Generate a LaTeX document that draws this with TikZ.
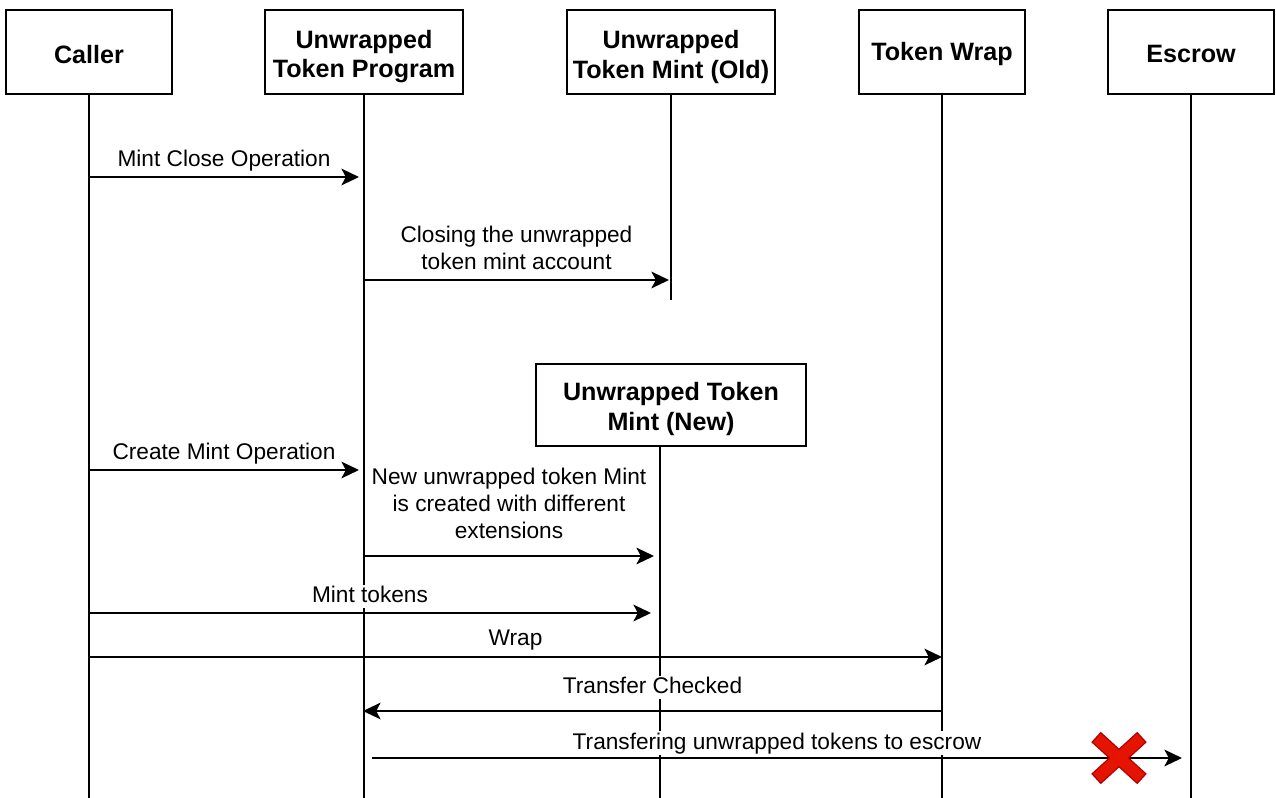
\documentclass[tikz,border=0pt]{standalone}
\usepackage{fontspec}
\setmainfont{Liberation Sans}
\usetikzlibrary{arrows.meta,positioning}
\definecolor{xred}{HTML}{E51400}
\definecolor{xdark}{HTML}{B20000}
\tikzset{
	actor/.style={draw, line width=0.04cm, inner sep=0pt, minimum height=1.68cm},
	title/.style={align=center, inner sep=0pt, font=\fontsize{14.3}{16.6}\selectfont\bfseries},
	life/.style={line width=0.04cm},
	msg/.style={line width=0.04cm, -{Stealth[length=10pt, width=9.5pt, inset=2.5pt]}},
	lbl/.style={fill=white, inner sep=1pt, align=center, text depth=0.22em,
		font=\fontsize{12.9}{15.4}\selectfont},
}
\begin{document}
\begin{tikzpicture}[x=0.02cm, y=-0.02cm]
	\useasboundingbox (0,0) rectangle (1276,798);
	% participants
	\node[actor, minimum width=3.32cm] (caller) at (89,52) {};
	\node[actor, minimum width=3.96cm] (prog) at (364,52) {};
	\node[actor, minimum width=4.16cm] (oldmint) at (671,52) {};
	\node[actor, minimum width=3.32cm] (wrap) at (942,52) {};
	\node[actor, minimum width=3.32cm] (escrow) at (1191,52) {};
	\node[actor, minimum width=5.4cm, minimum height=1.64cm] (newmint) at (671,405) {};
	\node[title] (callerT) at ([yshift=-1.2pt]caller.center) {Caller};
	\node[title] (progT) at ([yshift=-2.8pt]prog.center) {Unwrapped\\Token Program};
	\node[title] (oldmintT) at ([yshift=-2.8pt]oldmint.center) {Unwrapped\\Token Mint (Old)};
	\node[title] (wrapT) at ([yshift=-1.2pt]wrap.center) {Token Wrap};
	\node[title] (escrowT) at ([yshift=-1.2pt]escrow.center) {Escrow};
	\node[title] (newmintT) at ([yshift=-2.3pt]newmint.center) {Unwrapped Token\\Mint (New)};
	% lifelines
	\coordinate (bottom) at (0,798);
	\coordinate (oldend) at (0,300);
	\coordinate (newtop) at (660,446);
	\coordinate (newend) at (660,798);
	\draw[life] (caller.south) -- (caller.south |- bottom);
	\draw[life] (prog.south) -- (prog.south |- bottom);
	\draw[life] (oldmint.south) -- (oldmint.south |- oldend);
	\draw[life] (wrap.south) -- (wrap.south |- bottom);
	\draw[life] (escrow.south) -- (escrow.south |- bottom);
	\draw[life] (newtop) -- (newend);
	% messages
	\coordinate (m1a) at (89,177);  \coordinate (m1b) at (359,177);
	\coordinate (m2a) at (364,280); \coordinate (m2b) at (669,280);
	\coordinate (m3a) at (89,470);  \coordinate (m3b) at (359,470);
	\coordinate (m4a) at (364,556); \coordinate (m4b) at (654,556);
	\coordinate (m5a) at (89,613);  \coordinate (m5b) at (651,613);
	\coordinate (m6a) at (89,657);  \coordinate (m6b) at (942,657);
	\coordinate (m7a) at (942,711); \coordinate (m7b) at (363,711);
	\coordinate (m8a) at (372,758); \coordinate (m8b) at (1182,758);
	\draw[msg] (m1a) -- (m1b) node[lbl, midway, above=2pt] (l1) {Mint Close Operation};
	\draw[msg] (m2a) -- (m2b) node[lbl, midway, above=2pt] (l2) {Closing the unwrapped\\token mint account};
	\draw[msg] (m3a) -- (m3b) node[lbl, midway, above=2pt] (l3) {Create Mint Operation};
	\draw[msg] (m4a) -- (m4b) node[lbl, midway, above=6pt] (l4) {New unwrapped token Mint\\is created with different\\extensions};
	\draw[msg] (m5a) -- (m5b) node[lbl, midway, above=2pt] (l5) {Mint tokens};
	\draw[msg] (m6a) -- (m6b) node[lbl, midway, above=2.5pt] (l6) {Wrap};
	\draw[msg] (m7a) -- (m7b) node[lbl, midway, above=6pt] (l7) {Transfer Checked};
	\draw[msg] (m8a) -- (m8b) node[lbl, midway, above=1pt] (l8) {Transfering unwrapped tokens to escrow};
	% blocked transfer
	\begin{scope}[shift={(1119,758)}]
		\draw[xdark, line width=8pt] (-23,-21) -- (23,21);
		\draw[xdark, line width=8pt] (-23,21) -- (23,-21);
		\draw[xred, line width=6.5pt] (-22,-20) -- (22,20);
		\draw[xred, line width=6.5pt] (-22,20) -- (22,-20);
	\end{scope}
\end{tikzpicture}
\end{document}
